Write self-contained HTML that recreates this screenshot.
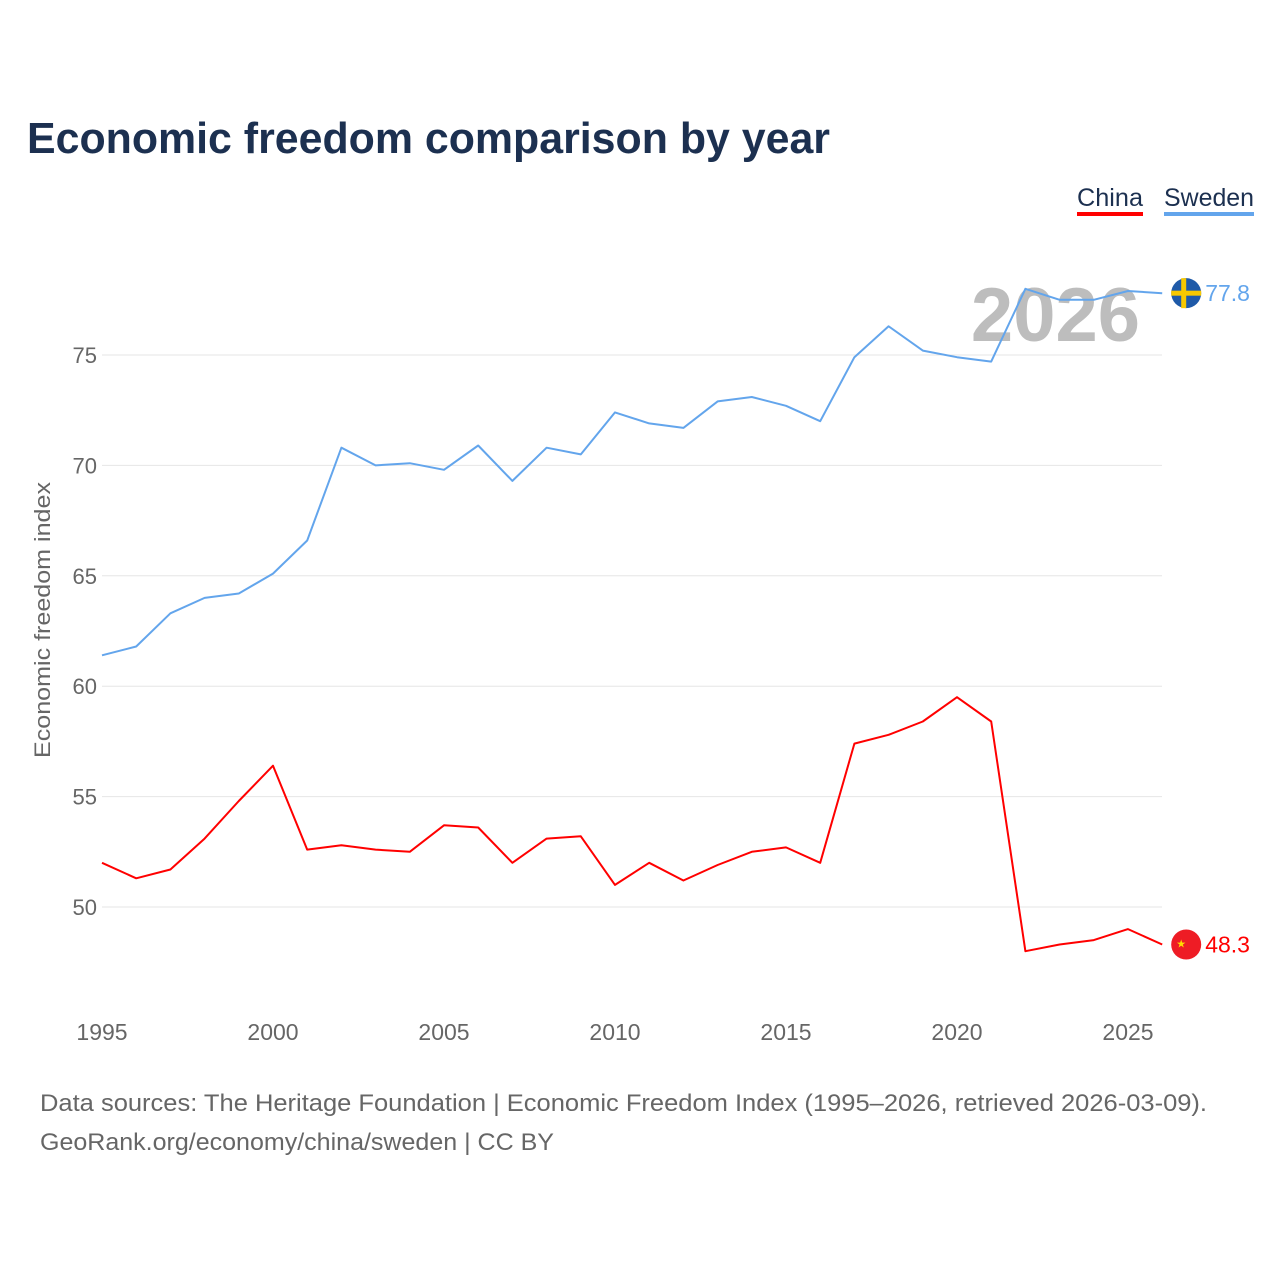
<!DOCTYPE html>
<html><head><meta charset="utf-8">
<style>
body{margin:0;background:#fff;font-family:"Liberation Sans",sans-serif;}
#wrap{position:relative;width:1280px;height:1280px;overflow:hidden;}
</style></head>
<body>
<div id="wrap">
<svg id="chart" width="1280" height="1280">
  <text x="27" y="153" font-size="44" font-weight="bold" fill="#1c3050" textLength="803" lengthAdjust="spacingAndGlyphs">Economic freedom comparison by year</text>
  <g>
    <text x="1077" y="206" font-size="25" fill="#1c3050" textLength="66" lengthAdjust="spacingAndGlyphs">China</text>
    <rect x="1077" y="212" width="66" height="4" fill="#ff0000"/>
  </g>
  <g>
    <text x="1164" y="206" font-size="25" fill="#1c3050" textLength="90" lengthAdjust="spacingAndGlyphs">Sweden</text>
    <rect x="1164" y="212" width="90" height="4" fill="#63a5ec"/>
  </g>
  <text x="1140" y="341" font-size="76" font-weight="bold" fill="#bdbdbd" text-anchor="end">2026</text>
  <g id="grid"></g>
  <g id="xticks"></g>
  <g id="yticks"></g>
  <text transform="translate(50,620) rotate(-90)" font-size="22" fill="#666" text-anchor="middle" textLength="276" lengthAdjust="spacingAndGlyphs">Economic freedom index</text>
  <g id="series"></g>
  <text x="40" y="1111" font-size="24" fill="#666" textLength="1167" lengthAdjust="spacingAndGlyphs">Data sources: The Heritage Foundation | Economic Freedom Index (1995–2026, retrieved 2026-03-09).</text>
  <text x="40" y="1150" font-size="24" fill="#666" textLength="514" lengthAdjust="spacingAndGlyphs">GeoRank.org/economy/china/sweden | CC BY</text>
</svg>
</div>
<script>
const years = [1995,1996,1997,1998,1999,2000,2001,2002,2003,2004,2005,2006,2007,2008,2009,2010,2011,2012,2013,2014,2015,2016,2017,2018,2019,2020,2021,2022,2023,2024,2025,2026];
const sweden = [61.4,61.8,63.3,64.0,64.2,65.1,66.6,70.8,70.0,70.1,69.8,70.9,69.3,70.8,70.5,72.4,71.9,71.7,72.9,73.1,72.7,72.0,74.9,76.3,75.2,74.9,74.7,78.0,77.5,77.5,77.9,77.8];
const china = [52.0,51.3,51.7,53.1,54.8,56.4,52.6,52.8,52.6,52.5,53.7,53.6,52.0,53.1,53.2,51.0,52.0,51.2,51.9,52.5,52.7,52.0,57.4,57.8,58.4,59.5,58.4,48.0,48.3,48.5,49.0,48.3];
const xTicks = [1995,2000,2005,2010,2015,2020,2025];
const yTicks = [50,55,60,65,70,75];

const NS="http://www.w3.org/2000/svg";
function X(yr){return 102+(yr-1995)*34.2;}
function Y(v){return 355+(75-v)*22.08;}
function mk(tag,attrs,parent){const e=document.createElementNS(NS,tag);for(const k in attrs)e.setAttribute(k,attrs[k]);parent.appendChild(e);return e;}

const grid=document.getElementById('grid'), yt=document.getElementById('yticks'), xt=document.getElementById('xticks'), ser=document.getElementById('series');
yTicks.forEach(v=>{
  const l=mk('line',{x1:102,x2:1162,y1:Y(v),y2:Y(v),stroke:'#e6e6e6','stroke-width':1},grid);
  
  
  const t=mk('text',{x:97,y:Y(v)+8,'font-size':22,fill:'#666','text-anchor':'end'},yt);
  t.textContent=v;
  
  
});
xTicks.forEach(v=>{
  const t=mk('text',{x:X(v),y:1040,'font-size':23,fill:'#666','text-anchor':'middle'},xt);
  t.textContent=v;
  
  
});
function drawLine(vals,color,name){
  const d=vals.map((v,i)=>(i?'L':'M')+X(years[i]).toFixed(1)+','+Y(v).toFixed(1)).join('');
  const p=mk('path',{d:d,fill:'none',stroke:color,'stroke-width':2,'stroke-linejoin':'round'},ser);
  
  
  const last=vals[vals.length-1], lx=X(years[years.length-1])+24, ly=Y(last);
  const c=mk('circle',{cx:lx,cy:ly,r:15,fill:name==='china'?'#ee1c25':'#1f5aa8'},ser);
  
  
  if(name==='sweden'){
    mk('rect',{x:lx-15,y:ly-2.5,width:30,height:5,fill:'#f7c800'},ser);
    mk('rect',{x:lx-5,y:ly-15,width:5,height:30,fill:'#f7c800'},ser);
  } else {
    const s=mk('text',{x:lx-10,y:ly+3,'font-size':11,fill:'#ffde00'},ser);s.textContent='★';
  }
  const t=mk('text',{x:lx+19,y:ly+8,'font-size':23,fill:color},ser);
  t.textContent=last.toFixed(1);
  
  
}
drawLine(sweden,'#63a5ec','sweden');
drawLine(china,'#ff0000','china');
</script>
</body></html>
